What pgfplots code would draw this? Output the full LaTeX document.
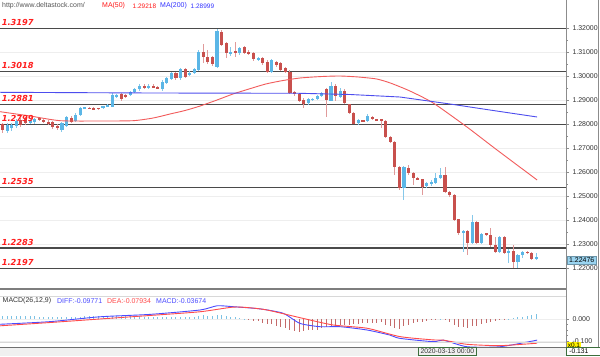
\documentclass[border=0pt]{standalone}
\usepackage{pgfplots}
\pgfplotsset{compat=1.18}
\usepackage{pgfplotstable}
\usepackage{fontspec}
\setmainfont{Liberation Sans}
\newfontfamily\srfont{DejaVu Sans}
\definecolor{srline}{HTML}{4A4A4A}
\definecolor{gridc}{HTML}{EEEEEE}
\definecolor{upbody}{HTML}{5BB6E6}
\definecolor{upwick}{HTML}{86C8EA}
\definecolor{dnbody}{HTML}{C8504D}
\definecolor{dnwick}{HTML}{E09A9A}
\definecolor{mared}{HTML}{F25C5C}
\definecolor{mablue}{HTML}{4D4DEE}
\definecolor{diffc}{HTML}{4B4BFF}
\definecolor{deac}{HTML}{FF4B4B}
\definecolor{histup}{HTML}{7CC2E4}
\definecolor{histdn}{HTML}{C46A6A}
\definecolor{srlabel}{HTML}{FF1E1E}
\definecolor{hdrgray}{HTML}{555555}
\definecolor{axgray}{HTML}{8C8C8C}
\definecolor{stripc}{HTML}{F0F0F0}
\definecolor{boxgreen}{HTML}{3C6E3C}
\definecolor{pricebox}{HTML}{9AD4F0}

\pgfplotstableread{
i o h l c
1 1.27721 1.28042 1.27625 1.27958
2 1.27821 1.28042 1.27708 1.27958
3 1.27917 1.28208 1.27833 1.28138
6 1.28054 1.28250 1.28000 1.28167
7 1.28083 1.28271 1.28021 1.28196
13 1.27750 1.28083 1.27667 1.28029
14 1.27917 1.28333 1.27875 1.28279
16 1.28138 1.28438 1.28083 1.28375
17 1.28375 1.28708 1.28333 1.28654
18 1.28654 1.28708 1.28625 1.28696
22 1.28654 1.28771 1.28625 1.28750
23 1.28721 1.28833 1.28688 1.28792
24 1.28721 1.29271 1.28688 1.29208
25 1.29138 1.29250 1.29104 1.29208
28 1.29208 1.29396 1.29167 1.29346
29 1.29346 1.29500 1.29304 1.29446
30 1.29446 1.29667 1.29396 1.29583
32 1.29529 1.29667 1.29458 1.29583
35 1.29446 1.29833 1.29388 1.29763
36 1.29721 1.29946 1.29667 1.29904
37 1.29863 1.30179 1.29833 1.30113
39 1.29904 1.30333 1.29833 1.30279
41 1.30042 1.30208 1.30000 1.30138
42 1.30113 1.30321 1.30083 1.30279
43 1.30250 1.31083 1.30208 1.31013
47 1.30388 1.31946 1.30333 1.31888
50 1.30946 1.31221 1.30833 1.31013
52 1.30946 1.31208 1.30875 1.31154
56 1.30667 1.30792 1.30625 1.30738
59 1.30179 1.30708 1.30125 1.30667
67 1.28863 1.29083 1.28813 1.29029
68 1.29017 1.29083 1.28979 1.29050
69 1.29029 1.29208 1.29000 1.29167
70 1.29167 1.29333 1.29125 1.29279
72 1.28971 1.29763 1.28938 1.29583
74 1.29138 1.29500 1.29083 1.29388
78 1.28029 1.28208 1.27979 1.28167
80 1.28138 1.28438 1.28104 1.28333
88 1.25321 1.26271 1.24833 1.26221
93 1.25417 1.25583 1.25333 1.25529
94 1.25529 1.25667 1.25417 1.25583
95 1.25529 1.25958 1.25500 1.25738
96 1.25738 1.26154 1.25708 1.25875
101 1.23446 1.23583 1.22679 1.23554
103 1.23029 1.24208 1.23000 1.23929
105 1.23054 1.23458 1.23000 1.23404
109 1.22679 1.23333 1.22625 1.23279
111 1.22638 1.22792 1.22208 1.22721
113 1.22263 1.22583 1.22000 1.22542
114 1.22542 1.22708 1.22417 1.22679
117 1.22363 1.22613 1.22333 1.22476
}\uptab

\pgfplotstableread{
i o h l c
0 1.28000 1.28054 1.27613 1.27750
4 1.28167 1.28250 1.27875 1.27958
5 1.28208 1.28292 1.27958 1.28054
8 1.28238 1.28292 1.28125 1.28196
9 1.28167 1.28229 1.28021 1.28083
10 1.28096 1.28167 1.27938 1.28000
11 1.28083 1.28125 1.27813 1.27863
12 1.27929 1.28000 1.27750 1.27821
15 1.28238 1.28313 1.28042 1.28096
19 1.28679 1.28708 1.28625 1.28654
20 1.28679 1.28708 1.28583 1.28613
21 1.28667 1.28688 1.28604 1.28638
26 1.29250 1.29292 1.28979 1.29029
27 1.29208 1.29250 1.29104 1.29138
31 1.29583 1.29667 1.29446 1.29488
33 1.29583 1.29667 1.29488 1.29529
34 1.29529 1.29583 1.29458 1.29488
38 1.30113 1.30179 1.29833 1.29904
40 1.30279 1.30333 1.29904 1.29946
44 1.31000 1.31333 1.30542 1.30813
45 1.30779 1.31083 1.30500 1.30583
46 1.30779 1.30833 1.30417 1.30500
48 1.31846 1.31917 1.31250 1.31292
49 1.31363 1.31417 1.30738 1.30946
51 1.31042 1.31429 1.30804 1.30946
53 1.31196 1.31250 1.30917 1.30971
54 1.31013 1.31083 1.30875 1.30946
55 1.30946 1.31000 1.30625 1.30696
57 1.30738 1.30792 1.30458 1.30529
58 1.30596 1.30667 1.30125 1.30179
60 1.30596 1.30646 1.30396 1.30458
61 1.30554 1.30604 1.30208 1.30250
62 1.30321 1.30375 1.30146 1.30179
63 1.30179 1.30229 1.29250 1.29304
64 1.29346 1.29396 1.29167 1.29250
65 1.29250 1.29292 1.28917 1.28971
66 1.29000 1.29083 1.28667 1.28846
71 1.29446 1.29500 1.28304 1.29000
73 1.29583 1.29667 1.28958 1.29167
75 1.29388 1.29458 1.28813 1.28863
76 1.28821 1.28854 1.28438 1.28471
77 1.28471 1.28500 1.27979 1.28000
79 1.28154 1.28167 1.28104 1.28125
81 1.28304 1.28333 1.28167 1.28196
82 1.28196 1.28208 1.28146 1.28167
83 1.28196 1.28208 1.27833 1.28138
84 1.28138 1.28188 1.27438 1.27471
85 1.27471 1.27521 1.27208 1.27263
86 1.27263 1.27313 1.25875 1.26221
87 1.26221 1.26271 1.25271 1.25321
89 1.26154 1.26271 1.25875 1.25946
90 1.25946 1.26000 1.25458 1.25738
91 1.25750 1.25771 1.25667 1.25708
92 1.25696 1.25729 1.25042 1.25388
97 1.25875 1.26208 1.25125 1.25179
98 1.25179 1.25229 1.24958 1.25042
99 1.25042 1.25083 1.23958 1.24000
100 1.24029 1.24063 1.23396 1.23446
102 1.23554 1.23583 1.22542 1.23029
104 1.23929 1.23958 1.23000 1.23054
106 1.23446 1.23479 1.23333 1.23375
107 1.23375 1.23667 1.22875 1.22958
108 1.22958 1.23304 1.22625 1.22679
110 1.23279 1.23333 1.22583 1.22638
112 1.22721 1.22958 1.21988 1.22263
115 1.22679 1.22708 1.22604 1.22638
116 1.22638 1.22667 1.22333 1.22363
}\dntab

\pgfplotstableread{
i v
0 0.013
1 0.014
2 0.015
3 0.015
4 0.014
5 0.013
6 0.012
7 0.012
8 0.011
9 0.010
10 0.009
11 0.008
12 0.007
13 0.007
14 0.008
15 0.008
16 0.009
17 0.011
18 0.012
19 0.012
20 0.012
21 0.012
22 0.012
23 0.012
24 0.014
25 0.014
26 0.013
27 0.012
28 0.012
29 0.012
30 0.012
31 0.011
32 0.010
33 0.009
34 0.008
35 0.008
36 0.009
37 0.010
38 0.009
39 0.010
40 0.009
41 0.008
42 0.009
43 0.014
44 0.016
45 0.015
46 0.013
47 0.018
48 0.017
49 0.012
50 0.010
51 0.008
52 0.005
53 0.002
54 -0.003
55 -0.008
56 -0.011
57 -0.016
58 -0.024
59 -0.022
60 -0.030
61 -0.036
62 -0.040
63 -0.052
64 -0.055
65 -0.058
66 -0.056
67 -0.052
68 -0.050
69 -0.048
70 -0.042
71 -0.036
72 -0.030
73 -0.030
74 -0.026
75 -0.026
76 -0.026
77 -0.024
78 -0.022
79 -0.020
80 -0.019
81 -0.018
82 -0.016
83 -0.015
84 -0.028
85 -0.034
86 -0.042
87 -0.044
88 -0.034
89 -0.026
90 -0.020
91 -0.015
92 -0.012
93 -0.008
94 -0.005
95 -0.002
96 0.0015
97 -0.004
98 -0.012
99 -0.028
100 -0.035
101 -0.036
102 -0.042
103 -0.032
104 -0.030
105 -0.022
106 -0.018
107 -0.015
108 -0.010
109 -0.004
110 -0.006
111 0.002
112 0.004
113 0.007
114 0.010
115 0.013
116 0.017
117 0.021
}\histtab

\pgfplotsset{
  candle/.style n args={2}{draw=none, mark=none, forget plot,
    error bars/.cd, y dir=both, y explicit, error mark=none,
    error bar style={line width=#1, draw=#2, solid}},
}

\begin{document}
\begin{tikzpicture}[x=1bp,y=1bp]
\path[use as bounding box] (0,0) rectangle (600,356);
\fill[white] (0,0) rectangle (600,356);
\fill[stripc] (0,0) rectangle (566,9);

% ---------------- main price panel ----------------
\begin{axis}[
  at={(0bp,67bp)}, anchor=south west,
  scale only axis, width=566bp, height=289bp,
  xmin=-0.592, xmax=123.53, ymin=1.21125, ymax=1.331667,
  axis x line=none, axis y line*=right,
  y axis line style={draw=axgray, line width=0.8bp},
  ytick={1.22,1.23,1.24,1.25,1.26,1.27,1.28,1.29,1.30,1.31,1.32},
  minor y tick num=1,
  tick align=outside, major tick length=3bp, minor tick length=2bp,
  tick style={draw=axgray, line width=0.6bp},
  yticklabel style={font=\fontsize{7}{8}\selectfont, text=black!80,
    /pgf/number format/.cd, fixed, fixed zerofill, precision=5, assume math mode=true},
  ymajorgrids, major grid style={draw=gridc, line width=0.8bp},
  clip=false,
]
% support / resistance levels
\addplot[srline, line width=1.3bp, forget plot] coordinates {(-0.592,1.3197) (123.53,1.3197)};
\addplot[srline, line width=1.3bp, forget plot] coordinates {(-0.592,1.3018) (123.53,1.3018)};
\addplot[srline, line width=1.3bp, forget plot] coordinates {(-0.592,1.2881) (123.53,1.2881)};
\addplot[srline, line width=1.3bp, forget plot] coordinates {(-0.592,1.2799) (123.53,1.2799)};
\addplot[srline, line width=1.3bp, forget plot] coordinates {(-0.592,1.2535) (123.53,1.2535)};
\addplot[srline, line width=1.3bp, forget plot] coordinates {(-0.592,1.2283) (123.53,1.2283)};
\addplot[srline, line width=1.3bp, forget plot] coordinates {(-0.592,1.2197) (123.53,1.2197)};

% wicks
\addplot[candle={1bp}{upwick}]
  table[x=i, y expr={(\thisrow{h}+\thisrow{l})/2}, y error expr={(\thisrow{h}-\thisrow{l})/2}] {\uptab};
\addplot[candle={1bp}{dnwick}]
  table[x=i, y expr={(\thisrow{h}+\thisrow{l})/2}, y error expr={(\thisrow{h}-\thisrow{l})/2}] {\dntab};
% bodies
\addplot[candle={3.1bp}{upbody}]
  table[x=i, y expr={(\thisrow{o}+\thisrow{c})/2}, y error expr={max(abs(\thisrow{c}-\thisrow{o})/2,0.0002)}] {\uptab};
\addplot[candle={3.1bp}{dnbody}]
  table[x=i, y expr={(\thisrow{o}+\thisrow{c})/2}, y error expr={max(abs(\thisrow{c}-\thisrow{o})/2,0.0002)}] {\dntab};

% moving averages
\addplot[mared, line width=0.9bp, smooth, tension=0.4] coordinates {
(-0.59,1.28513) (6,1.28333) (12.6,1.28138) (21.3,1.28125) (28.6,1.28138) (33,1.2825)
(36.7,1.28417) (40,1.28563) (43.3,1.2875) (47,1.29) (50.5,1.2925) (54,1.29458)
(57.7,1.29667) (61.5,1.29813) (65.2,1.29917) (70,1.29979) (74,1.3) (78,1.29958)
(82,1.29875) (85,1.29708) (89.3,1.29375) (94.4,1.28875) (101.8,1.27875) (108.4,1.26917) (117.2,1.25667)};
\addplot[mablue, line width=0.9bp] coordinates {
(-0.59,1.29321) (32.3,1.29292) (65.2,1.29279) (76.2,1.29229) (87.1,1.29125) (98.1,1.28833) (108,1.2855) (117.2,1.28292)};

% level labels
\foreach \lv in {1.3197,1.3018,1.2881,1.2799,1.2535,1.2283,1.2197}{
  \edef\tmp{\noexpand\node[anchor=south west, inner sep=0pt, text=srlabel,
    font=\noexpand\srfont\noexpand\bfseries\noexpand\itshape\noexpand\fontsize{8.3}{9}\noexpand\selectfont,
    yshift=2.5bp] at (axis cs:-0.25,\lv) {\lv};}
  \tmp
}
\end{axis}

% ---------------- MACD panel ----------------
\begin{axis}[
  at={(0bp,9bp)}, anchor=south west,
  scale only axis, width=566bp, height=57bp,
  xmin=-0.592, xmax=123.53, ymin=-0.1273, ymax=0.1318,
  axis x line=none, axis y line*=right,
  y axis line style={draw=axgray, line width=0.8bp},
  ytick={-0.1,0}, yticklabels={-0.100,0.000},
  minor y tick num=3,
  tick align=outside, major tick length=3bp, minor tick length=2bp,
  tick style={draw=axgray, line width=0.6bp},
  yticklabel style={font=\fontsize{7}{8}\selectfont, text=black!80},
  ymajorgrids, major grid style={draw=gridc, line width=0.8bp},
  clip=false,
]
\addplot[ycomb, histup, line width=1bp, restrict y to domain=0:1, forget plot] table[x=i, y=v] {\histtab};
\addplot[ycomb, histdn, line width=1bp, restrict y to domain=-1:0, forget plot] table[x=i, y=v] {\histtab};
\addplot[diffc, line width=0.9bp, smooth, tension=0.4] coordinates {
(-0.59,-0.024) (10.4,-0.012) (21.3,0.010) (32.3,0.021) (43.3,0.041) (47,0.060) (50.5,0.056)
(56.4,0.046) (61.5,0.026) (65.2,-0.020) (69.6,-0.035) (74,-0.035) (79.9,-0.050) (84.9,-0.073)
(87.1,-0.088) (94.4,-0.103) (96.6,-0.096) (101.8,-0.126) (109.1,-0.126) (117.2,-0.096)};
\addplot[deac, line width=0.9bp, smooth, tension=0.4] coordinates {
(-0.59,-0.031) (10.4,-0.016) (21.3,0.0) (32.3,0.016) (43.3,0.033) (50.5,0.054) (54.2,0.051)
(57.96,0.041) (65.2,0.006) (72.4,-0.027) (79.9,-0.042) (87.1,-0.080) (94.4,-0.095) (96.6,-0.096)
(101.8,-0.115) (109.1,-0.121) (117.2,-0.110)};
\end{axis}

% ---------------- frame lines and overlays ----------------
\draw[axgray!90!black, line width=1.6bp] (0,67) -- (566,67);
\draw[gridc!80!gray, line width=0.8bp] (0,59.5) -- (566,59.5);
\draw[gridc!80!gray, line width=0.8bp] (0,14) -- (566,14);
\draw[axgray!80!black, line width=1bp] (0,9) -- (566,9);
\draw[axgray, line width=0.8bp] (566,0) -- (566,356);
\draw[axgray, line width=0.8bp] (598.5,0) -- (598.5,356);

% header texts
\begin{scope}[every node/.style={anchor=west, inner sep=0pt, font=\fontsize{7}{8}\selectfont}]
\node[text=hdrgray] at (2,350.2) {http://www.deltastock.com/};
\node[text=red!90] at (102,350.2) {MA(50)};
\node[text=red!90, font=\fontsize{6.5}{8}\selectfont] at (132.5,350.2) {1.29218};
\node[text=blue!80] at (160,350.2) {MA(200)};
\node[text=blue!80, font=\fontsize{6.5}{8}\selectfont] at (190.5,350.2) {1.28999};
\node[text=black!80] at (2.5,55.4) {MACD(26,12,9)};
\node[text=diffc] at (57,55.4) {DIFF:-0.09771};
\node[text=deac] at (107,55.4) {DEA:-0.07934};
\node[text=diffc] at (156,55.4) {MACD:-0.03674};
\end{scope}

% price box
\node[anchor=west, fill=pricebox, draw=pricebox!70!black, line width=0.5bp, inner sep=0pt,
  minimum width=29bp, minimum height=7.8bp, font=\fontsize{7}{8}\selectfont] at (567,95.5) {1.22476};
% MACD scale boxes
\node[anchor=west, fill=yellow, inner sep=0.6bp, minimum height=7bp, font=\fontsize{6.5}{7}\selectfont] at (567,10.8) {x0.1};
\node[anchor=south west, fill=white, draw=boxgreen, line width=0.7bp, inner sep=0pt,
  minimum width=34bp, minimum height=8bp, font=\fontsize{6.8}{7}\selectfont] at (565.5,0.3) {\hspace*{-8bp}-0.131};
% date label
\node[anchor=south west, fill=stripc, draw=boxgreen, line width=0.7bp, inner sep=0pt,
  minimum width=58bp, minimum height=8.6bp, font=\fontsize{6.8}{7}\selectfont, text=black!80] at (418,0.2) {2020-03-13 00:00};
\end{tikzpicture}
\end{document}
